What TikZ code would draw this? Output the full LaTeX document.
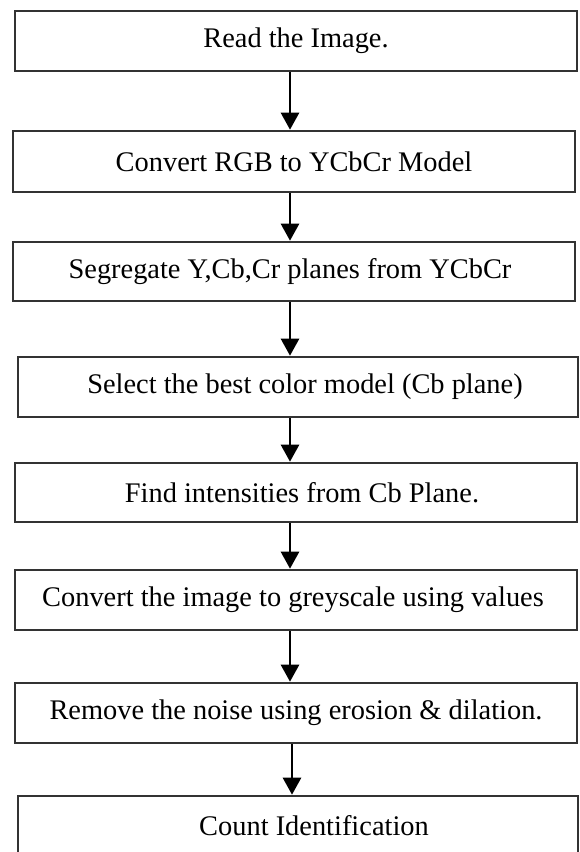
\documentclass[tikz,border=0pt]{standalone}
\usepackage{fontspec}
\setmainfont{Liberation Serif}
\usetikzlibrary{arrows.meta}
\begin{document}
\begin{tikzpicture}[x=1pt,y=-1pt,
  stepbox/.style={draw=black!80, line width=2.6pt, minimum width=#1, minimum height=60pt, inner sep=0pt},
  stepbox/.default=562pt,
  txt/.style={font=\fontsize{28.4}{32}\selectfont, text=black},
  arr/.style={line width=2.6pt, -{Triangle[length=17pt,width=18pt]}}]
\useasboundingbox (0,0) rectangle (579,852);
\coordinate (spine) at (290,0);
\coordinate (spine2) at (292,0);
% process steps, top to bottom
\node[stepbox] (b1) at (296,41) {};
\node[txt] at (b1.center) {Read the Image.};
\node[stepbox, minimum height=61pt] (b2) at (294,161.5) {};
\node[txt] at (b2.center) {Convert RGB to YCbCr Model};
\node[stepbox, minimum height=59pt] (b3) at (294,271.5) {};
\node[txt] at ([xshift=-4pt]b3.center) {Segregate Y,Cb,Cr planes from YCbCr};
\node[stepbox=560pt] (b4) at (298,387) {};
\node[txt] at ([xshift=7pt]b4.center) {Select the best color model (Cb plane)};
\node[stepbox, minimum height=59pt] (b5) at (296,492.5) {};
\node[txt] at ([xshift=6pt]b5.center) {Find intensities from Cb Plane.};
\node[stepbox] (b6) at (296,600) {};
\node[txt] at ([xshift=-3pt]b6.center) {Convert the image to greyscale using values};
\node[stepbox] (b7) at (296,713) {};
\node[txt] at (b7.center) {Remove the noise using erosion \& dilation.};
\node[stepbox=560pt] (b8) at (298,826) {};
\node[txt] at ([xshift=16pt]b8.center) {Count Identification};
% connectors
\draw[arr] (b1.south -| spine) -- (b2.north -| spine);
\draw[arr] (b2.south -| spine) -- (b3.north -| spine);
\draw[arr] (b3.south -| spine) -- (b4.north -| spine);
\draw[arr] (b4.south -| spine) -- (b5.north -| spine);
\draw[arr] (b5.south -| spine) -- (b6.north -| spine);
\draw[arr] (b6.south -| spine) -- (b7.north -| spine);
\draw[arr] (b7.south -| spine2) -- (b8.north -| spine2);
\end{tikzpicture}
\end{document}
